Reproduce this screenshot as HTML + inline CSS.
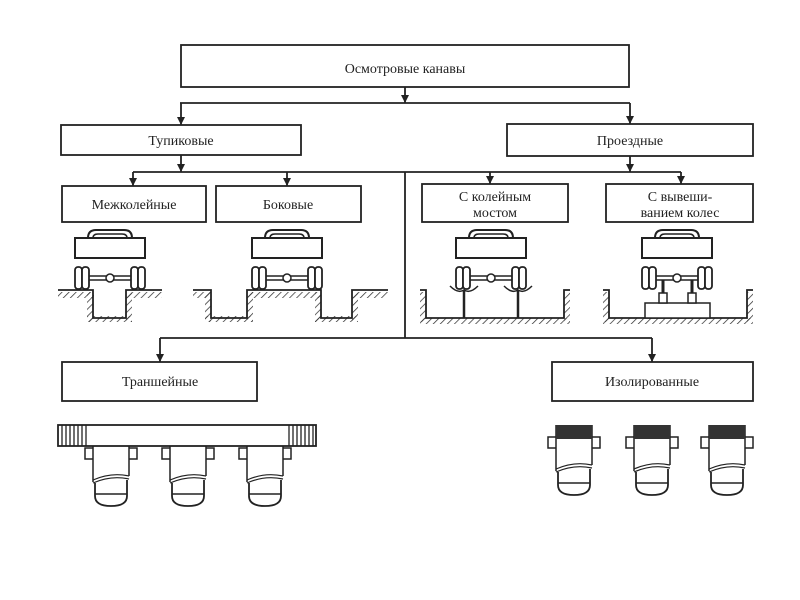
<!DOCTYPE html>
<html><head><meta charset="utf-8"><style>
html,body{margin:0;padding:0;background:#fff;}
svg{display:block}
text{font-family:"Liberation Serif",serif;font-size:14px;fill:#222;text-anchor:middle}
</style></head><body>
<svg width="800" height="600" viewBox="0 0 800 600" xmlns="http://www.w3.org/2000/svg">
<defs>
<marker id="a" markerWidth="8" markerHeight="8" refX="8" refY="4" orient="auto" markerUnits="userSpaceOnUse">
<path d="M0,0 L8,4 L0,8 z" fill="#222"/></marker>
<pattern id="h" width="5" height="5" patternUnits="userSpaceOnUse" patternTransform="rotate(45)">
<line x1="0" y1="0" x2="0" y2="5" stroke="#333" stroke-width="1.5"/></pattern>
<g id="car">
<path d="M-22,-2 Q-22,-10 -14,-10 L14,-10 Q22,-10 22,-2" fill="none" stroke="#222" stroke-width="2"/>
<path d="M-17,-2 Q-17,-6 -12,-6 L12,-6 Q17,-6 17,-2" fill="none" stroke="#222" stroke-width="1.5"/>
<rect x="-35" y="-2" width="70" height="20" fill="#fff" stroke="#222" stroke-width="2"/>
</g>
<g id="axle">
<rect x="-35" y="0" width="7" height="22" rx="3" fill="#fff" stroke="#222" stroke-width="1.8"/>
<rect x="-28" y="0" width="7" height="22" rx="3" fill="#fff" stroke="#222" stroke-width="1.8"/>
<rect x="21" y="0" width="7" height="22" rx="3" fill="#fff" stroke="#222" stroke-width="1.8"/>
<rect x="28" y="0" width="7" height="22" rx="3" fill="#fff" stroke="#222" stroke-width="1.8"/>
<line x1="-21" y1="9" x2="21" y2="9" stroke="#222" stroke-width="1.5"/>
<line x1="-21" y1="13" x2="21" y2="13" stroke="#222" stroke-width="1.5"/>
<circle cx="0" cy="11" r="4" fill="#fff" stroke="#222" stroke-width="1.5"/>
</g>
<g id="pit">
<rect x="-26" y="12" width="52" height="11" fill="#fff" stroke="#222" stroke-width="1.5"/>
<rect x="-18" y="0" width="36" height="42" fill="#fff" stroke="none"/>
<path d="M-18,0 L-18,46 M18,0 L18,40" stroke="#222" stroke-width="1.5" fill="none"/>
<path d="M-18,44 Q0,36 18,40 M-18,47 Q0,39 18,43" stroke="#222" stroke-width="1.2" fill="none"/>
<path d="M-16,47 L-16,60 Q-16,70 0,70 Q16,70 16,60 L16,44" stroke="#222" stroke-width="1.8" fill="#fff"/>
<line x1="-16" y1="58" x2="16" y2="58" stroke="#222" stroke-width="1.5"/>
</g>
</defs>
<g stroke="#222" stroke-width="1.8" fill="none">
<rect x="181" y="45" width="448" height="42" fill="#fff"/>
<rect x="61" y="125" width="240" height="30"/>
<rect x="507" y="124" width="246" height="32"/>
<rect x="62" y="186" width="144" height="36"/>
<rect x="216" y="186" width="145" height="36"/>
<rect x="422" y="184" width="146" height="38"/>
<rect x="606" y="184" width="147" height="38"/>
<rect x="62" y="362" width="195" height="39"/>
<rect x="552" y="362" width="201" height="39"/>
<line x1="405" y1="87" x2="405" y2="103" marker-end="url(#a)"/>
<line x1="180" y1="103" x2="630" y2="103"/>
<line x1="181" y1="103" x2="181" y2="125" marker-end="url(#a)"/>
<line x1="630" y1="103" x2="630" y2="124" marker-end="url(#a)"/>
<line x1="181" y1="155" x2="181" y2="172" marker-end="url(#a)"/>
<line x1="630" y1="156" x2="630" y2="172" marker-end="url(#a)"/>
<line x1="133" y1="172" x2="681" y2="172"/>
<line x1="133" y1="172" x2="133" y2="186" marker-end="url(#a)"/>
<line x1="287" y1="172" x2="287" y2="186" marker-end="url(#a)"/>
<line x1="490" y1="172" x2="490" y2="184" marker-end="url(#a)"/>
<line x1="681" y1="172" x2="681" y2="184" marker-end="url(#a)"/>
<line x1="405" y1="172" x2="405" y2="338"/>
<line x1="160" y1="338" x2="652" y2="338"/>
<line x1="160" y1="338" x2="160" y2="362" marker-end="url(#a)"/>
<line x1="652" y1="338" x2="652" y2="362" marker-end="url(#a)"/>
</g>
<text x="405" y="73">Осмотровые канавы</text>
<text x="181" y="145">Тупиковые</text>
<text x="630" y="145">Проездные</text>
<text x="134" y="209">Межколейные</text>
<text x="288" y="209">Боковые</text>
<text x="495" y="201">С колейным</text>
<text x="495" y="217">мостом</text>
<text x="680" y="201">С вывеши-</text>
<text x="680" y="217">ванием колес</text>
<text x="160" y="386">Траншейные</text>
<text x="652" y="386">Изолированные</text>

<g fill="url(#h)">
<rect x="58" y="292" width="36" height="6"/><rect x="87" y="292" width="6" height="30"/><rect x="87" y="316" width="45" height="6"/><rect x="126" y="292" width="6" height="30"/><rect x="126" y="292" width="36" height="6"/>
<rect x="193" y="292" width="18" height="6"/><rect x="205" y="292" width="6" height="30"/><rect x="205" y="316" width="48" height="6"/><rect x="247" y="292" width="6" height="30"/><rect x="247" y="292" width="74" height="6"/><rect x="315" y="292" width="6" height="30"/><rect x="315" y="316" width="43" height="6"/><rect x="352" y="292" width="6" height="30"/><rect x="352" y="292" width="36" height="6"/>
<rect x="420" y="292" width="6" height="30"/><rect x="420" y="318" width="150" height="6"/><rect x="564" y="292" width="6" height="30"/>
<rect x="603" y="292" width="6" height="30"/><rect x="603" y="318" width="150" height="6"/><rect x="747" y="292" width="6" height="30"/>
</g>
<g stroke="#222" stroke-width="1.8" fill="none">
<path d="M58,290 H93 V318 H126 V290 H162"/>
<path d="M193,290 H211 V318 H247 V290 H321 V318 H352 V290 H388"/>
<path d="M420,290 H426 V318 H564 V290 H570"/>
<path d="M603,290 H609 V318 H747 V290 H753"/>
</g>
<use href="#car" x="110" y="240"/>
<use href="#axle" x="110" y="267"/>
<use href="#car" x="287" y="240"/>
<use href="#axle" x="287" y="267"/>
<use href="#car" x="491" y="240"/>
<use href="#axle" x="491" y="267"/>
<use href="#car" x="677" y="240"/>
<use href="#axle" x="677" y="267"/>
<g stroke="#222" stroke-width="2.5" fill="none">
<line x1="464" y1="290" x2="464" y2="318"/><line x1="518" y1="290" x2="518" y2="318"/>
</g>
<g stroke="#222" stroke-width="1.5" fill="none">
<path d="M450,286 Q458,294 464,290 Q470,294 478,286"/><path d="M504,286 Q512,294 518,290 Q524,294 532,286"/>
<rect x="645" y="303" width="65" height="15" fill="#fff"/>
<rect x="659" y="293" width="8" height="10" fill="#fff"/><rect x="688" y="293" width="8" height="10" fill="#fff"/>
<line x1="663" y1="280" x2="663" y2="293" stroke-width="3"/><line x1="692" y1="280" x2="692" y2="293" stroke-width="3"/>
</g>

<use href="#pit" x="111" y="436"/>
<use href="#pit" x="188" y="436"/>
<use href="#pit" x="265" y="436"/>
<rect x="58" y="425" width="258" height="21" fill="#fff" stroke="#222" stroke-width="1.8"/>
<g stroke="#222" stroke-width="1.3">
<line x1="62" y1="425" x2="62" y2="446"/><line x1="66" y1="425" x2="66" y2="446"/><line x1="70" y1="425" x2="70" y2="446"/><line x1="74" y1="425" x2="74" y2="446"/><line x1="78" y1="425" x2="78" y2="446"/><line x1="82" y1="425" x2="82" y2="446"/><line x1="86" y1="425" x2="86" y2="446"/>
<line x1="289" y1="425" x2="289" y2="446"/><line x1="293" y1="425" x2="293" y2="446"/><line x1="297" y1="425" x2="297" y2="446"/><line x1="301" y1="425" x2="301" y2="446"/><line x1="305" y1="425" x2="305" y2="446"/><line x1="309" y1="425" x2="309" y2="446"/><line x1="313" y1="425" x2="313" y2="446"/>
</g>
<use href="#pit" x="574" y="425"/>
<use href="#pit" x="652" y="425"/>
<use href="#pit" x="727" y="425"/>
<rect x="556" y="425" width="36" height="14" fill="#333"/>
<rect x="634" y="425" width="36" height="14" fill="#333"/>
<rect x="709" y="425" width="36" height="14" fill="#333"/>
</svg>
</body></html>
